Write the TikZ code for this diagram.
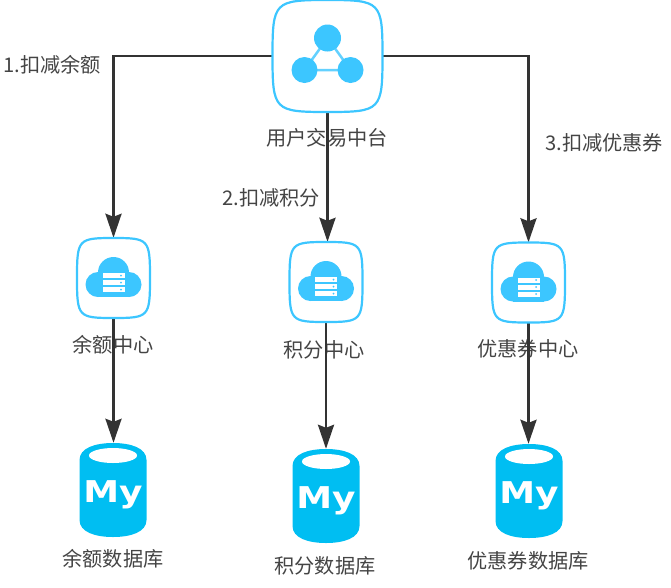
\documentclass[tikz,border=0pt]{standalone}
\usepackage{fontspec}
\setmainfont{Noto Sans CJK SC}
\newfontfamily\logofont{DejaVu Sans}
\usetikzlibrary{arrows.meta}
\definecolor{iconblue}{HTML}{3CC6FF}
\definecolor{dbblue}{HTML}{00BEF2}
\definecolor{linegray}{HTML}{333333}
\definecolor{textgray}{HTML}{444444}
\tikzset{
    flow/.style={line width=2.8pt,linegray,-{Stealth[length=24pt,width=16pt,inset=3pt]}},
    caption/.style={text=textgray,font=\fontsize{20.2}{23}\selectfont,inner sep=0pt},
    hubbox/.style={minimum width=110pt,minimum height=112pt,inner sep=0pt},
    svcbox/.style={minimum width=73pt,minimum height=80pt,inner sep=0pt},
    dbbox/.style={minimum width=67pt,minimum height=94pt,inner sep=0pt},
    outline/.style={line width=2.2pt,iconblue,fill=white}
}
% rounded square with slightly bulging sides, #1 is the node, #2 #3 half sizes
\newcommand{\squircle}[3]{
    \begin{scope}[shift={(#1.center)},x=#2pt,y=-#3pt]
        \draw[outline] (-1,0) .. controls (-1,-.97) and (-.97,-1) .. (0,-1)
            .. controls (.97,-1) and (1,-.97) .. (1,0)
            .. controls (1,.97) and (.97,1) .. (0,1)
            .. controls (-.97,1) and (-1,.97) .. (-1,0) -- cycle;
    \end{scope}
}
% cloud with server racks
\newcommand{\cloudicon}[1]{
    \begin{scope}[shift={(#1.center)}]
        \fill[iconblue] (-15.5,6.5) circle (12.5pt) (15.5,6.5) circle (12.5pt) (0,-5.5) circle (15.5pt);
        \fill[iconblue] (-15.5,-2) rectangle (15.5,19);
        \foreach \rowy in {-5,2,9}{
            \fill[white] (-11,\rowy) rectangle (11,\rowy+5);
            \fill[iconblue] (7.5,\rowy+2.5) circle (1pt);
        }
    \end{scope}
}
% three linked circles
\newcommand{\hubicon}[1]{
    \begin{scope}[shift={(#1.center)}]
        \draw[line width=2.5pt,iconblue!80] (0,-18) -- (-23,14) -- (23,14) -- cycle;
        \fill[iconblue] (0,-18) circle (13.5pt) (-23,14) circle (13pt) (23,14) circle (13pt);
    \end{scope}
}
% database can with logo text
\newcommand{\dbicon}[1]{
    \begin{scope}[shift={(#1.center)}]
        \fill[dbblue] (-33.5,-30) .. controls (-33.5,-42) and (-18,-47) .. (0,-47)
            .. controls (18,-47) and (33.5,-42) .. (33.5,-30) -- (33.5,30)
            .. controls (33.5,42) and (18,47) .. (0,47)
            .. controls (-18,47) and (-33.5,42) .. (-33.5,30) -- cycle;
        \fill[white] (0,-34.5) ellipse (24pt and 7.5pt);
        \node[text=white,inner sep=0pt,xscale=1.2,font=\logofont\bfseries\fontsize{30}{31}\selectfont]
            at (0,5) {My};
    \end{scope}
}

\begin{document}
\begin{tikzpicture}[x=1pt,y=-1pt]
    \useasboundingbox (0,0) rectangle (671,587);
    %boxes of the three layers
    \node[hubbox] (hub) at (327.5,56) {};
    \node[svcbox] (balance) at (113.5,278) {};
    \node[svcbox] (points) at (326,282) {};
    \node[svcbox] (coupon) at (528.5,282.5) {};
    \node[dbbox] (balancedb) at (113,490) {};
    \node[dbbox] (pointsdb) at (326,496) {};
    \node[dbbox] (coupondb) at (529,491) {};
    %texts
    \node[caption] (hubtext) at (327,138) {用户交易中台};
    \node[caption] (balancetext) at (113,345) {余额中心};
    \node[caption] (pointstext) at (324,350) {积分中心};
    \node[caption] (coupontext) at (528,349) {优惠券中心};
    \node[caption] (balancedbtext) at (113,559) {余额数据库};
    \node[caption] (pointsdbtext) at (325,566) {积分数据库};
    \node[caption] (coupondbtext) at (528,561) {优惠券数据库};
    \node[caption,anchor=west] (stepone) at (3,65) {1.扣减余额};
    \node[caption,anchor=west] (steptwo) at (222,198) {2.扣减积分};
    \node[caption,anchor=west] (stepthree) at (545,143) {3.扣减优惠券};
    %connectors
    \draw[flow] (hub.west) -| (balance.north);
    \draw[flow] (hub.south) -- (hub.south |- points.north);
    \draw[flow] (hub.east) -| (coupon.north);
    \draw[flow] (balance.south) -- (balance.south |- balancedb.north);
    \draw[flow] (points.south) -- (points.south |- pointsdb.north);
    \draw[flow] (coupon.south) -- (coupon.south |- coupondb.north);
    %icons
    \squircle{hub}{55}{56}
    \hubicon{hub}
    \foreach \svc in {balance,points,coupon}{
        \squircle{\svc}{36.5}{40}
        \cloudicon{\svc}
    }
    \foreach \db in {balancedb,pointsdb,coupondb}{
        \dbicon{\db}
    }
\end{tikzpicture}
\end{document}
